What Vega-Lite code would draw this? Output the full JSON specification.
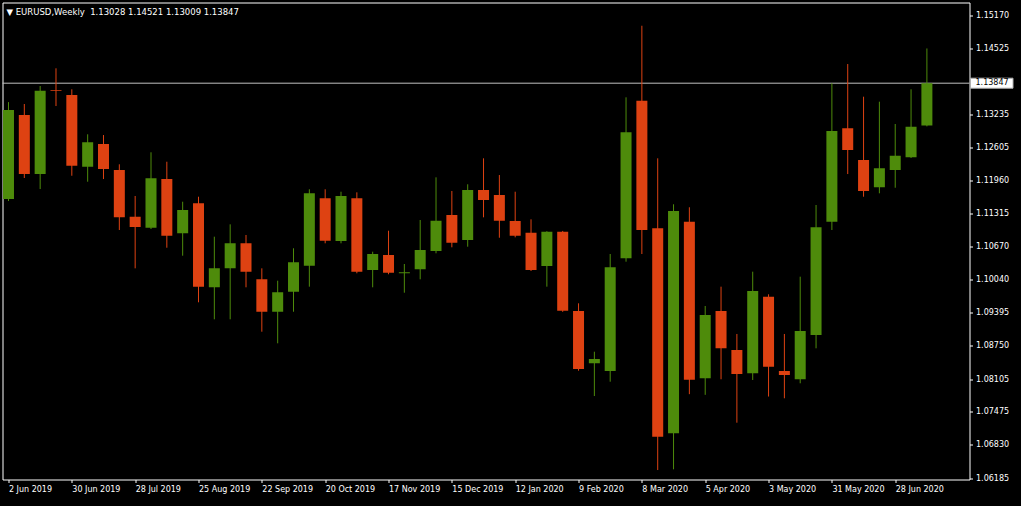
{
  "$schema": "https://vega.github.io/schema/vega-lite/v6.json",
  "width": 967,
  "height": 477,
  "autosize": {"type": "none"},
  "padding": {"left": 2.5, "top": 2.5, "right": 51.5, "bottom": 26.5},
  "background": "#000000",
  "config": {"view": {"stroke": "#ffffff", "strokeWidth": 1}, "font": "DejaVu Sans"},
  "title": {
    "text": "▼ EURUSD,Weekly\u00a0 1.13028 1.14521 1.13009 1.13847",
    "anchor": "start", "frame": "group", "orient": "top", "offset": 0,
    "color": "#ffffff", "fontSize": 8.5, "fontWeight": "normal", "font": "DejaVu Sans",
    "dx": 4, "dy": 14
  },
  "datasets": {
    "candles": [
      {"date": "2019-06-02", "open": 1.11599, "high": 1.13480, "low": 1.11560, "close": 1.13326},
      {"date": "2019-06-09", "open": 1.13229, "high": 1.13443, "low": 1.12007, "close": 1.12084},
      {"date": "2019-06-16", "open": 1.12084, "high": 1.13792, "low": 1.11793, "close": 1.13701},
      {"date": "2019-06-23", "open": 1.13712, "high": 1.14136, "low": 1.13404, "close": 1.13695},
      {"date": "2019-06-30", "open": 1.13618, "high": 1.13728, "low": 1.12051, "close": 1.12246},
      {"date": "2019-07-07", "open": 1.12226, "high": 1.12855, "low": 1.11935, "close": 1.12700},
      {"date": "2019-07-14", "open": 1.12667, "high": 1.12841, "low": 1.11987, "close": 1.12182},
      {"date": "2019-07-21", "open": 1.12162, "high": 1.12273, "low": 1.10998, "close": 1.11244},
      {"date": "2019-07-28", "open": 1.11256, "high": 1.11658, "low": 1.10254, "close": 1.11056},
      {"date": "2019-08-04", "open": 1.11043, "high": 1.12506, "low": 1.11017, "close": 1.12001},
      {"date": "2019-08-11", "open": 1.11987, "high": 1.12323, "low": 1.10654, "close": 1.10887},
      {"date": "2019-08-18", "open": 1.10934, "high": 1.11547, "low": 1.10499, "close": 1.11386},
      {"date": "2019-08-25", "open": 1.11516, "high": 1.11644, "low": 1.09595, "close": 1.09898},
      {"date": "2019-09-01", "open": 1.09886, "high": 1.10868, "low": 1.09265, "close": 1.10254},
      {"date": "2019-09-08", "open": 1.10254, "high": 1.11108, "low": 1.09265, "close": 1.10740},
      {"date": "2019-09-15", "open": 1.10740, "high": 1.10901, "low": 1.09886, "close": 1.10189},
      {"date": "2019-09-22", "open": 1.10041, "high": 1.10254, "low": 1.09024, "close": 1.09412},
      {"date": "2019-09-29", "open": 1.09412, "high": 1.10014, "low": 1.08799, "close": 1.09789},
      {"date": "2019-10-06", "open": 1.09801, "high": 1.10643, "low": 1.09412, "close": 1.10371},
      {"date": "2019-10-13", "open": 1.10305, "high": 1.11788, "low": 1.09898, "close": 1.11710},
      {"date": "2019-10-20", "open": 1.11613, "high": 1.11788, "low": 1.10740, "close": 1.10790},
      {"date": "2019-10-27", "open": 1.10784, "high": 1.11741, "low": 1.10740, "close": 1.11658},
      {"date": "2019-11-03", "open": 1.11613, "high": 1.11729, "low": 1.10158, "close": 1.10189},
      {"date": "2019-11-10", "open": 1.10222, "high": 1.10577, "low": 1.09886, "close": 1.10532},
      {"date": "2019-11-17", "open": 1.10513, "high": 1.10984, "low": 1.10139, "close": 1.10169},
      {"date": "2019-11-24", "open": 1.10160, "high": 1.10338, "low": 1.09781, "close": 1.10178},
      {"date": "2019-12-01", "open": 1.10235, "high": 1.11192, "low": 1.10041, "close": 1.10610},
      {"date": "2019-12-08", "open": 1.10590, "high": 1.12020, "low": 1.10546, "close": 1.11178},
      {"date": "2019-12-15", "open": 1.11289, "high": 1.11755, "low": 1.10662, "close": 1.10752},
      {"date": "2019-12-22", "open": 1.10804, "high": 1.11885, "low": 1.10674, "close": 1.11774},
      {"date": "2019-12-29", "open": 1.11774, "high": 1.12389, "low": 1.11244, "close": 1.11580},
      {"date": "2020-01-05", "open": 1.11677, "high": 1.12065, "low": 1.10848, "close": 1.11178},
      {"date": "2020-01-12", "open": 1.11172, "high": 1.11741, "low": 1.10856, "close": 1.10887},
      {"date": "2020-01-19", "open": 1.10946, "high": 1.11205, "low": 1.10202, "close": 1.10222},
      {"date": "2020-01-26", "open": 1.10300, "high": 1.10975, "low": 1.09898, "close": 1.10966},
      {"date": "2020-02-02", "open": 1.10966, "high": 1.10980, "low": 1.09410, "close": 1.09432},
      {"date": "2020-02-09", "open": 1.09426, "high": 1.09575, "low": 1.08267, "close": 1.08300},
      {"date": "2020-02-16", "open": 1.08411, "high": 1.08636, "low": 1.07776, "close": 1.08494},
      {"date": "2020-02-23", "open": 1.08262, "high": 1.10532, "low": 1.08054, "close": 1.10274},
      {"date": "2020-03-01", "open": 1.10449, "high": 1.13573, "low": 1.10383, "close": 1.12894},
      {"date": "2020-03-08", "open": 1.13507, "high": 1.14962, "low": 1.10532, "close": 1.10998},
      {"date": "2020-03-15", "open": 1.11031, "high": 1.12389, "low": 1.06340, "close": 1.06987},
      {"date": "2020-03-22", "open": 1.07052, "high": 1.11497, "low": 1.06354, "close": 1.11366},
      {"date": "2020-03-29", "open": 1.11159, "high": 1.11439, "low": 1.07812, "close": 1.08090},
      {"date": "2020-04-05", "open": 1.08120, "high": 1.09523, "low": 1.07799, "close": 1.09348},
      {"date": "2020-04-12", "open": 1.09426, "high": 1.09898, "low": 1.08101, "close": 1.08702},
      {"date": "2020-04-19", "open": 1.08669, "high": 1.08980, "low": 1.07258, "close": 1.08203},
      {"date": "2020-04-26", "open": 1.08217, "high": 1.10189, "low": 1.08087, "close": 1.09814},
      {"date": "2020-05-03", "open": 1.09704, "high": 1.09750, "low": 1.07766, "close": 1.08345},
      {"date": "2020-05-10", "open": 1.08262, "high": 1.08980, "low": 1.07732, "close": 1.08184},
      {"date": "2020-05-17", "open": 1.08101, "high": 1.10092, "low": 1.08023, "close": 1.09038},
      {"date": "2020-05-24", "open": 1.08960, "high": 1.11483, "low": 1.08702, "close": 1.11050},
      {"date": "2020-05-31", "open": 1.11159, "high": 1.13845, "low": 1.10998, "close": 1.12919},
      {"date": "2020-06-07", "open": 1.12971, "high": 1.14219, "low": 1.12084, "close": 1.12550},
      {"date": "2020-06-14", "open": 1.12356, "high": 1.13585, "low": 1.11644, "close": 1.11755},
      {"date": "2020-06-21", "open": 1.11826, "high": 1.13488, "low": 1.11710, "close": 1.12195},
      {"date": "2020-06-28", "open": 1.12162, "high": 1.13055, "low": 1.11818, "close": 1.12440},
      {"date": "2020-07-05", "open": 1.12409, "high": 1.13728, "low": 1.12395, "close": 1.13003},
      {"date": "2020-07-12", "open": 1.13028, "high": 1.14521, "low": 1.13009, "close": 1.13847}
    ],
    "bid": [{"price": 1.13847, "label": "1.13847"}]
  },
  "layer": [
    {
      "data": {"name": "bid"},
      "mark": {"type": "rule", "color": "#c0c0c0", "strokeWidth": 1},
      "encoding": {"y": {"field": "price", "type": "quantitative"}}
    },
    {
      "data": {"name": "candles"},
      "mark": {"type": "rule", "strokeWidth": 1, "clip": true},
      "encoding": {
        "x": {
          "field": "date", "type": "temporal",
          "scale": {"type": "utc", "nice": false, "domain": [
            {"year": 2019, "month": 6, "date": 1, "hours": 13, "minutes": 30, "utc": true},
            {"year": 2020, "month": 7, "date": 28, "hours": 15, "utc": true}
          ]},
          "axis": {
            "orient": "bottom", "title": null, "domain": false, "grid": false,
            "tickCount": 40,
            "values": [
              {"year": 2019, "month": 6, "date": 2, "utc": true},
              {"year": 2019, "month": 6, "date": 30, "utc": true},
              {"year": 2019, "month": 7, "date": 28, "utc": true},
              {"year": 2019, "month": 8, "date": 25, "utc": true},
              {"year": 2019, "month": 9, "date": 22, "utc": true},
              {"year": 2019, "month": 10, "date": 20, "utc": true},
              {"year": 2019, "month": 11, "date": 17, "utc": true},
              {"year": 2019, "month": 12, "date": 15, "utc": true},
              {"year": 2020, "month": 1, "date": 12, "utc": true},
              {"year": 2020, "month": 2, "date": 9, "utc": true},
              {"year": 2020, "month": 3, "date": 8, "utc": true},
              {"year": 2020, "month": 4, "date": 5, "utc": true},
              {"year": 2020, "month": 5, "date": 3, "utc": true},
              {"year": 2020, "month": 5, "date": 31, "utc": true},
              {"year": 2020, "month": 6, "date": 28, "utc": true}
            ],
            "labelExpr": "utcFormat(datum.value, '%-d %b %Y')",
            "tickColor": "#ffffff", "tickSize": 3,
            "labelColor": "#ffffff", "labelFont": "DejaVu Sans", "labelFontSize": 8,
            "labelAlign": "left", "labelBaseline": "top", "labelPadding": 3,
            "labelOverlap": false, "labelFlush": false
          }
        },
        "y": {
          "field": "low", "type": "quantitative",
          "scale": {"zero": false, "nice": false, "domain": [1.06156, 1.15413]},
          "axis": {
            "orient": "right", "title": null, "domain": false, "grid": false,
            "tickCount": 40,
            "values": [1.06185, 1.0683, 1.07475, 1.08105, 1.0875, 1.09395, 1.1004, 1.1067, 1.11315, 1.1196, 1.12605, 1.13235, 1.14525, 1.1517],
            "format": ".5f",
            "tickColor": "#ffffff", "tickSize": 3,
            "labelColor": "#ffffff", "labelFont": "DejaVu Sans", "labelFontSize": 8,
            "labelAlign": "left", "labelBaseline": "middle", "labelPadding": 3,
            "labelOverlap": false, "labelFlush": false
          }
        },
        "y2": {"field": "high"},
        "color": {"condition": {"test": "datum.close >= datum.open", "value": "#4e8b0b"}, "value": "#de4212"}
      }
    },
    {
      "data": {"name": "candles"},
      "mark": {"type": "bar", "width": 11, "clip": true},
      "encoding": {
        "x": {"field": "date", "type": "temporal"},
        "y": {"field": "open", "type": "quantitative", "scale": {"zero": false, "nice": false, "domain": [1.06156, 1.15413]}},
        "y2": {"field": "close"},
        "color": {"condition": {"test": "datum.close >= datum.open", "value": "#4e8b0b"}, "value": "#de4212"}
      }
    },
    {
      "data": {"name": "bid"},
      "mark": {"type": "rect", "fill": "#ffffff", "stroke": "#b0b0b0", "strokeWidth": 1, "xOffset": 1, "x2Offset": 43.5, "yOffset": -5, "y2Offset": 5, "clip": false},
      "encoding": {
        "x": {"value": "width"},
        "x2": {"value": "width"},
        "y": {"field": "price", "type": "quantitative"},
        "y2": {"field": "price"}
      }
    },
    {
      "data": {"name": "bid"},
      "mark": {"type": "text", "align": "left", "baseline": "middle", "dx": 6, "color": "#000000", "font": "DejaVu Sans", "fontSize": 8, "clip": false},
      "encoding": {
        "x": {"value": "width"},
        "y": {"field": "price", "type": "quantitative"},
        "text": {"field": "label"}
      }
    }
  ]
}
